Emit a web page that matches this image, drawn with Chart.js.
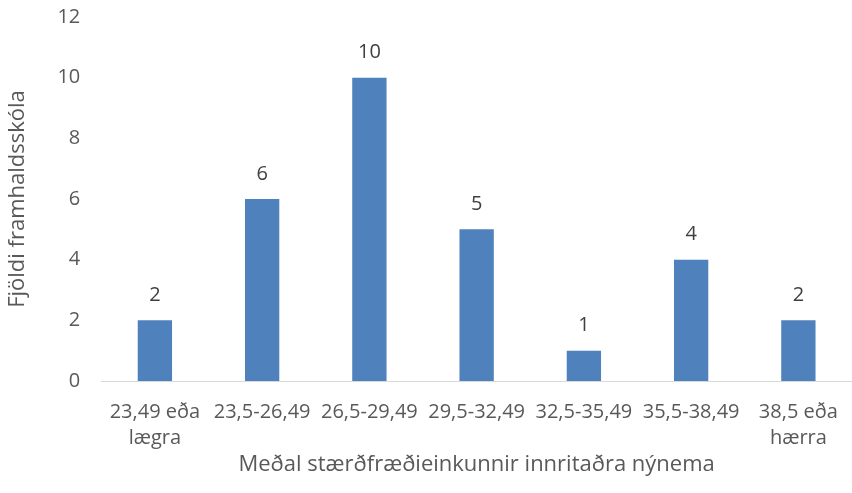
<!DOCTYPE html>
<html>
<head>
<meta charset="utf-8">
<script src="https://cdn.jsdelivr.net/npm/chart.js@4/dist/chart.umd.min.js"></script>
<style>
  html, body { margin: 0; padding: 0; background: #fff; }
  #wrap { width: 852px; height: 493px; }
</style>
</head>
<body>
<div id="wrap"><canvas id="graf"></canvas></div>
<script>
const flokkar = [['23,49 eða', 'lægra'], '23,5-26,49', '26,5-29,49', '29,5-32,49', '32,5-35,49', '35,5-38,49', ['38,5 eða', 'hærra']];
const fjoldi = [2, 6, 10, 5, 1, 4, 2];
const yTitill = 'Fjöldi framhaldsskóla';
const xTitill = 'Meðal stærðfræðieinkunnir innritaðra nýnema';

const grar = '#595959';
const letur = "'Open Sans', 'Noto Sans', sans-serif";

// skrifar gildin fyrir ofan sulurnar
const gildiPlugin = {
    id: 'gildi',
    afterDatasetsDraw(chart) {
        const ctx = chart.ctx;
        ctx.save();
        ctx.fillStyle = '#404040';
        ctx.font = '20px ' + letur;
        ctx.textAlign = 'center';
        ctx.textBaseline = 'middle';
        chart.getDatasetMeta(0).data.forEach(function (bar, i) {
            ctx.fillText(fjoldi[i], bar.x, bar.y - 25);
        });
        ctx.restore();
    }
};

new Chart(document.getElementById('graf'), {
    type: 'bar',
    data: {
        labels: flokkar,
        datasets: [{
            data: fjoldi,
            backgroundColor: '#4f81bd',
            barPercentage: 0.32,
            categoryPercentage: 1
        }]
    },
    options: {
        responsive: true,
        maintainAspectRatio: false,
        animation: false,
        layout: { padding: { top: 0, right: 0, left: 1, bottom: 17 } },
        plugins: {
            legend: { display: false },
            tooltip: { enabled: false }
        },
        scales: {
            x: {
                grid: { display: false },
                border: { display: true, color: '#d9d9d9', width: 1 },
                ticks: { color: grar, font: { family: letur, size: 20, lineHeight: 1.3 }, padding: 10, maxRotation: 0, autoSkip: false },
                title: { display: true, text: xTitill, color: grar, font: { family: letur, size: 22, lineHeight: 1 }, padding: { top: -7, bottom: 0 } }
            },
            y: {
                min: 0,
                max: 12,
                // litil lineHeight svo efsti merkimidinn taki minna plass
                ticks: { stepSize: 2, color: grar, font: { family: letur, size: 20, lineHeight: 0.4 }, padding: 13 },
                grid: { display: false },
                border: { display: false },
                title: { display: true, text: yTitill, color: grar, font: { family: letur, size: 22 }, padding: { bottom: 13 } }
            }
        }
    },
    plugins: [gildiPlugin]
});
</script>
</body>
</html>
